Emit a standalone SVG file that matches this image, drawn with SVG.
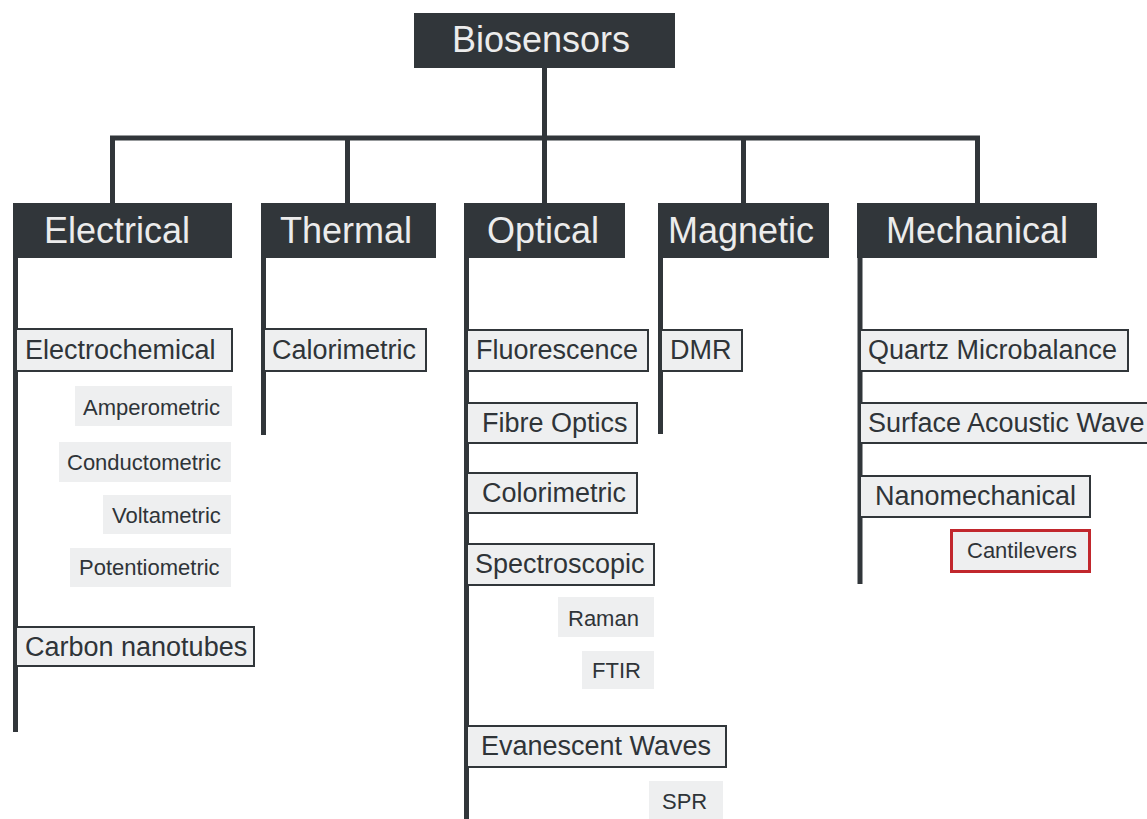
<svg xmlns="http://www.w3.org/2000/svg" width="1147" height="819" viewBox="0 0 1147 819">
<style>
.bg{fill:#ffffff}
.line{stroke:#31363a;stroke-width:5;fill:none}
.cat{fill:#31363a}
.cat-t{font-family:"Liberation Sans",Arial,sans-serif;font-size:36px;fill:#ececec}
.sub{fill:#eeeff0;stroke:#31363a;stroke-width:2}
.sub-t{font-family:"Liberation Sans",Arial,sans-serif;font-size:27px;fill:#2f3438}
.leaf{fill:#eeeff0}
.leaf-t{font-family:"Liberation Sans",Arial,sans-serif;font-size:22px;fill:#2f3438}
.hl{fill:#eeeff0;stroke:#c1272d;stroke-width:3}
</style>
<rect class="bg" x="0" y="0" width="1147" height="819"/>
<g id="connectors">
<path class="line" d="M544.5,68 V138"/>
<path class="line" d="M112.5,203 V138 H977.5 V203"/>
<path class="line" d="M347.5,138 V203"/>
<path class="line" d="M544.5,138 V203"/>
<path class="line" d="M743.5,138 V203"/>
<path class="line" d="M15.5,258 V732"/>
<path class="line" d="M263.5,258 V435"/>
<path class="line" d="M466.5,258 V819"/>
<path class="line" d="M660.5,258 V434"/>
<path class="line" d="M860,258 V584"/>
</g>
<g id="biosensors"><rect class="cat" x="414" y="13" width="261" height="55"/><text class="cat-t" x="452" y="52">Biosensors</text></g>
<g id="electrical"><rect class="cat" x="13" y="203" width="219" height="55"/><text class="cat-t" x="44" y="243">Electrical</text></g>
<g id="thermal"><rect class="cat" x="261" y="203" width="175" height="55"/><text class="cat-t" x="280" y="243">Thermal</text></g>
<g id="optical"><rect class="cat" x="464" y="203" width="161" height="55"/><text class="cat-t" x="487" y="243">Optical</text></g>
<g id="magnetic"><rect class="cat" x="658" y="203" width="171" height="55"/><text class="cat-t" x="668" y="243">Magnetic</text></g>
<g id="mechanical"><rect class="cat" x="857" y="203" width="240" height="55"/><text class="cat-t" x="886" y="243">Mechanical</text></g>

<g id="electrochemical"><rect class="sub" x="16" y="329" width="216" height="42"/><text class="sub-t" x="25" y="359">Electrochemical</text></g>
<g id="amperometric"><rect class="leaf" x="75" y="386" width="157" height="40"/><text class="leaf-t" x="83" y="415">Amperometric</text></g>
<g id="conductometric"><rect class="leaf" x="59" y="442" width="172" height="40"/><text class="leaf-t" x="67" y="470">Conductometric</text></g>
<g id="voltametric"><rect class="leaf" x="103" y="495" width="128" height="39"/><text class="leaf-t" x="112" y="523">Voltametric</text></g>
<g id="potentiometric"><rect class="leaf" x="70" y="548" width="161" height="39"/><text class="leaf-t" x="79" y="575">Potentiometric</text></g>
<g id="carbon-nanotubes"><rect class="sub" x="16" y="627" width="238" height="39"/><text class="sub-t" x="25" y="656">Carbon nanotubes</text></g>

<g id="calorimetric"><rect class="sub" x="264" y="329" width="162" height="42"/><text class="sub-t" x="272" y="359">Calorimetric</text></g>

<g id="fluorescence"><rect class="sub" x="467" y="330" width="181" height="41"/><text class="sub-t" x="476" y="359">Fluorescence</text></g>
<g id="fibre-optics"><rect class="sub" x="467" y="403" width="170" height="40"/><text class="sub-t" x="482" y="432">Fibre Optics</text></g>
<g id="colorimetric"><rect class="sub" x="467" y="473" width="170" height="40"/><text class="sub-t" x="482" y="502">Colorimetric</text></g>
<g id="spectroscopic"><rect class="sub" x="467" y="544" width="187" height="41"/><text class="sub-t" x="475" y="573">Spectroscopic</text></g>
<g id="raman"><rect class="leaf" x="558" y="597" width="96" height="40"/><text class="leaf-t" x="568" y="626">Raman</text></g>
<g id="ftir"><rect class="leaf" x="582" y="651" width="72" height="38"/><text class="leaf-t" x="592" y="678">FTIR</text></g>
<g id="evanescent-waves"><rect class="sub" x="467" y="726" width="259" height="41"/><text class="sub-t" x="481" y="755">Evanescent Waves</text></g>
<g id="spr"><rect class="leaf" x="649" y="781" width="74" height="44"/><text class="leaf-t" x="662" y="809">SPR</text></g>

<g id="dmr"><rect class="sub" x="661" y="330" width="81" height="41"/><text class="sub-t" x="670" y="359">DMR</text></g>

<g id="quartz-microbalance"><rect class="sub" x="860" y="330" width="268" height="41"/><text class="sub-t" x="868" y="359">Quartz Microbalance</text></g>
<g id="surface-acoustic-wave"><rect class="sub" x="860" y="403" width="300" height="40"/><text class="sub-t" x="868" y="432">Surface Acoustic Wave</text></g>
<g id="nanomechanical"><rect class="sub" x="860" y="476" width="230" height="41"/><text class="sub-t" x="875" y="505">Nanomechanical</text></g>
<g id="cantilevers"><rect class="hl" x="951.5" y="530.5" width="138" height="41"/><text class="leaf-t" x="967" y="558">Cantilevers</text></g>
</svg>
